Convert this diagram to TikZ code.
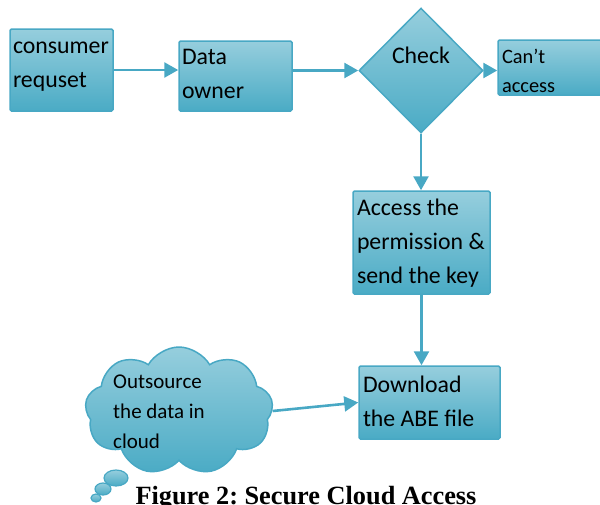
\documentclass[tikz,border=0pt]{standalone}
\usepackage{fontspec}
\setmainfont{Carlito}
\newfontfamily\capfont{Liberation Serif}
\usetikzlibrary{arrows.meta,shapes.geometric,shapes.symbols}
\definecolor{boxtop}{RGB}{150,206,221}
\definecolor{boxbot}{RGB}{74,171,197}
\definecolor{boxedge}{RGB}{72,168,196}
\frenchspacing
% text set from the top left corner of a box
\newcommand{\flowtext}[4]{\parbox[c][#2][t]{#1}{\rule{0pt}{#3}#4}}
\begin{document}
\begin{tikzpicture}[x=1pt,y=-1pt,
    main/.style = {draw=boxedge, line width=1.5pt, top color=boxtop, bottom color=boxbot,
                   rounded corners=1.5pt, inner xsep=3pt, inner ysep=0pt,
                   font=\fontsize{23.8}{34}\selectfont},
    link/.style = {draw=boxedge, line width=2.6pt, -{Triangle[length=14pt,width=15pt]}},
    bubble/.style = {draw=boxedge, line width=1.2pt, top color=boxtop, bottom color=boxbot}]
    \useasboundingbox (0,0) rectangle (600,504);
    \clip (0,0) rectangle (600,504);

    % first row
    \node[main] (1) at (61.5,70) {\flowtext{97pt}{82pt}{24pt}{consumer\\requset}};
    \node[main] (2) at (235.5,76) {\flowtext{107pt}{70pt}{23pt}{Data\\owner}};
    \node[main, diamond, rounded corners=0pt, minimum width=124pt, minimum height=125pt,
          inner sep=0pt] (3) at (421,70.5) {\raisebox{11.5pt}[8pt][0pt]{Check}};
    \node[main, font=\fontsize{20.4}{29}\selectfont, inner xsep=4pt] (4) at (551,67.5)
        {\flowtext{98pt}{55pt}{23pt}{Can’t\\access}};
    \draw[link] (1.east) -- (1.east -| 2.west);
    \draw[link] (2.east |- 3.west) -- (3.west);
    \draw[link] (3.east) -- (3.east -| 4.west);

    % going down
    \node[main, inner xsep=4pt] (5) at (421.5,242.5)
        {\flowtext{129pt}{103pt}{24pt}{Access the\\permission \&\\send the key}};
    \node[main, inner xsep=4pt] (6) at (429.5,402.5)
        {\flowtext{133pt}{73pt}{26pt}{Download\\the ABE file}};
    \draw[link] (3.south) -- (3.south |- 5.north);
    \draw[link] (5.south) -- (5.south |- 6.north);

    % cloud
    \shade[bubble] (96,498) ellipse [x radius=5pt, y radius=4pt];
    \shade[bubble] (103,489) ellipse [x radius=8pt, y radius=6pt];
    \shade[bubble] (116,478) ellipse [x radius=12pt, y radius=8pt];
    \node[main, cloud, rounded corners=0pt, cloud puffs=9, cloud puff arc=120, aspect=1.47,
          minimum width=188pt, minimum height=128pt, inner sep=0pt] (7) at (179,411) {};
    \node[anchor=base west, align=left, font=\fontsize{21}{30}\selectfont, inner sep=0pt]
        (8) at (113,448) {Outsource\\the data in\\cloud};
    \draw[link] (7.east) -- (6.west);

    % caption
    \node[anchor=base, inner sep=0pt, font=\capfont\bfseries\fontsize{26.3}{30}\selectfont]
        (9) at (306,504.5) {Figure 2: Secure Cloud Access};
\end{tikzpicture}
\end{document}
